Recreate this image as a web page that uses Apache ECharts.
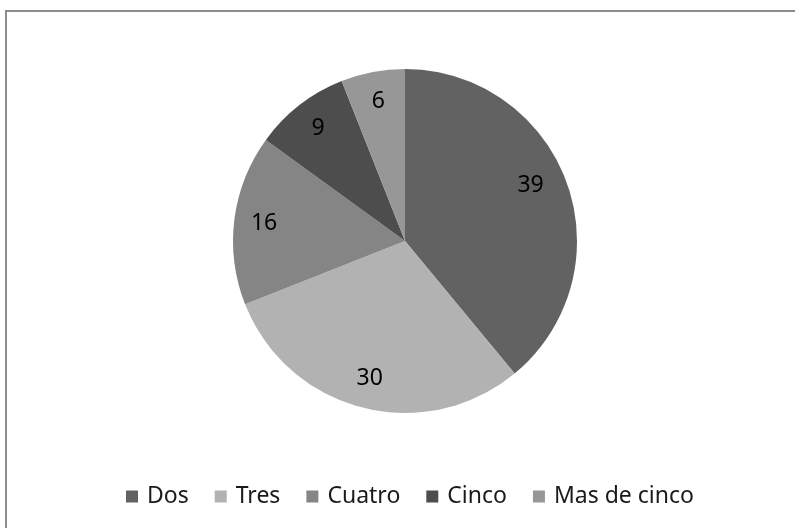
<!DOCTYPE html>
<html>
<head>
<meta charset="utf-8">
<script src="https://cdn.jsdelivr.net/npm/echarts@6/dist/echarts.min.js"></script>
<style>
  html, body { margin: 0; padding: 0; background: #fff; }
  #chart { width: 795px; height: 528px; }
</style>
</head>
<body>
<div id="chart"></div>
<script>
// datos del grafico
const categories = ['Dos', 'Tres', 'Cuatro', 'Cinco', 'Mas de cinco'];
const values = [39, 30, 16, 9, 6];
const colors = ['#626262', '#b2b2b2', '#858585', '#4d4d4d', '#979797'];

const pieData = categories.map((name, i) => ({ name: name, value: values[i] }));

const chart = echarts.init(document.getElementById('chart'));

const option = {
  backgroundColor: '#fff',
  animation: false,
  color: colors,
  textStyle: { fontFamily: 'Noto Sans' },
  graphic: [
    {
      type: 'rect',
      shape: { x: 6, y: 11, width: 800, height: 540 },
      style: { fill: 'none', stroke: '#8c8c8c', lineWidth: 2 },
      silent: true
    }
  ],
  legend: {
    left: 126,
    top: 485,
    padding: 0,
    itemWidth: 12,
    itemHeight: 12,
    itemGap: 26,
    icon: 'rect',
    textStyle: {
      fontFamily: 'Noto Sans',
      fontSize: 23,
      color: '#1a1a1a',
      padding: [0, 0, 0, 4]
    },
    data: categories
  },
  series: [
    {
      // sectores
      type: 'pie',
      center: [405, 241],
      radius: [0, 172],
      startAngle: 90,
      clockwise: true,
      label: { show: false },
      labelLine: { show: false },
      emphasis: { disabled: true },
      itemStyle: { borderWidth: 0 },
      data: pieData
    },
    {
      // anillo invisible solo para las etiquetas
      type: 'pie',
      center: [405, 241],
      radius: [106, 172],
      startAngle: 90,
      clockwise: true,
      silent: true,
      itemStyle: { color: 'rgba(0,0,0,0)' },
      label: {
        show: true,
        position: 'inside',
        formatter: '{c}',
        fontFamily: 'Noto Sans',
        fontSize: 23,
        color: '#000'
      },
      labelLayout: function (params) {
        // excel coloca la etiqueta del primer sector algo mas arriba
        if (params.dataIndex === 0) return { dx: -8, dy: -7 };
        return {};
      },
      labelLine: { show: false },
      emphasis: { disabled: true },
      data: pieData
    }
  ]
};

chart.setOption(option);
</script>
</body>
</html>
